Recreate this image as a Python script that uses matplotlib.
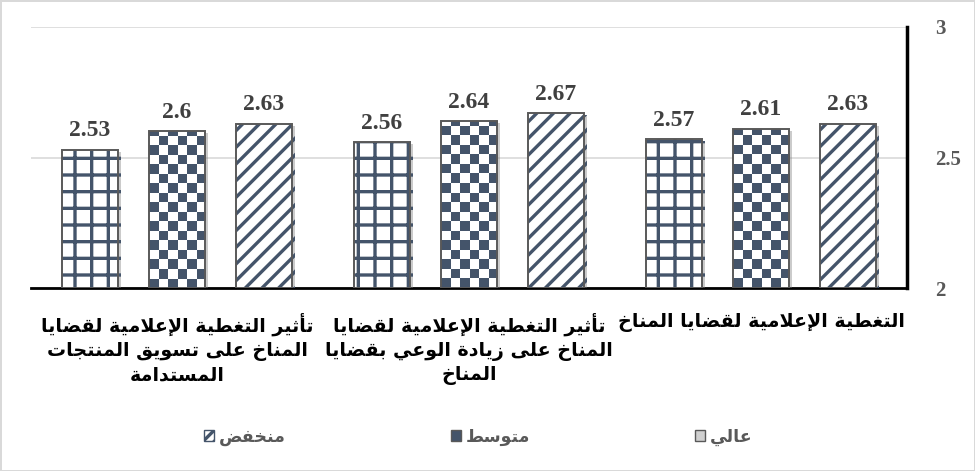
import numpy as np
import matplotlib
matplotlib.use('Agg')
import matplotlib.pyplot as plt
import matplotlib.patheffects as pe
from matplotlib.patches import Patch

# categories, first one drawn on the right (right-to-left chart)
categories = [
    "التغطية الإعلامية لقضايا المناخ",
    "تأثير التغطية الإعلامية لقضايا\nالمناخ على زيادة الوعي بقضايا\nالمناخ",
    "تأثير التغطية الإعلامية لقضايا\nالمناخ على تسويق المنتجات\nالمستدامة",
]
series_names = ["عالي", "متوسط", "منخفض"]
high = [2.57, 2.56, 2.53]
mid = [2.61, 2.64, 2.60]
low = [2.63, 2.67, 2.63]
y_ticks = [2, 2.5, 3]
y_tick_labels = ["2", "2.5", "3"]

# --- minimal arabic shaping (matplotlib has no bidi / joining support) ---
DUAL = {'ب': 0xFE8F, 'ت': 0xFE95, 'ث': 0xFE99, 'ج': 0xFE9D, 'ح': 0xFEA1,
        'خ': 0xFEA5, 'س': 0xFEB1, 'ش': 0xFEB5, 'ص': 0xFEB9, 'ض': 0xFEBD,
        'ط': 0xFEC1, 'ظ': 0xFEC5, 'ع': 0xFEC9, 'غ': 0xFECD, 'ف': 0xFED1,
        'ق': 0xFED5, 'ك': 0xFED9, 'ل': 0xFEDD, 'م': 0xFEE1, 'ن': 0xFEE5,
        'ه': 0xFEE9, 'ي': 0xFEF1, 'ئ': 0xFE89}
RIGHT = {'ا': 0xFE8D, 'أ': 0xFE83, 'إ': 0xFE87, 'آ': 0xFE81, 'د': 0xFEA9,
         'ذ': 0xFEAB, 'ر': 0xFEAD, 'ز': 0xFEAF, 'و': 0xFEED, 'ة': 0xFE93,
         'ى': 0xFEEF, 'ؤ': 0xFE85}
LAM_ALEF = {'آ': 0xFEF5, 'أ': 0xFEF7, 'إ': 0xFEF9, 'ا': 0xFEFB}


def shape_line(text):
    units = []
    i = 0
    while i < len(text):
        c = text[i]
        if c == 'ل' and i + 1 < len(text) and text[i + 1] in LAM_ALEF:
            units.append(('LA', text[i + 1]))
            i += 2
        else:
            units.append(('C', c))
            i += 1

    def joins_next(u):
        return u[0] == 'C' and u[1] in DUAL

    def joins_prev(u):
        return u[0] == 'LA' or u[1] in DUAL or u[1] in RIGHT

    out = []
    for k, u in enumerate(units):
        kind, c = u
        prev = k > 0 and joins_next(units[k - 1]) and joins_prev(u)
        nxt = k + 1 < len(units) and joins_next(u) and joins_prev(units[k + 1])
        if kind == 'LA':
            out.append(chr(LAM_ALEF[c] + (1 if prev else 0)))
        elif c in DUAL:
            off = 3 if (prev and nxt) else 2 if nxt else 1 if prev else 0
            out.append(chr(DUAL[c] + off))
        elif c in RIGHT:
            out.append(chr(RIGHT[c] + (1 if prev else 0)))
        else:
            out.append(c)
    return ''.join(reversed(out))


def ar(text):
    return '\n'.join(shape_line(l) for l in text.split('\n'))


W, H = 975, 471
fig = plt.figure(figsize=(W / 100, H / 100), dpi=100)
fig.patch.set_edgecolor('#d9d9d9')
fig.patch.set_linewidth(2)
ax = fig.add_axes([31 / W, 1 - 288 / H, (907 - 31) / W, (288 - 27) / H])

dark = '#44546A'
outline = '#595959'
plt.rcParams['hatch.linewidth'] = 2.4

x = np.arange(len(categories))
bw = 0.195
gap = 0.298
shadow = [pe.SimplePatchShadow(offset=(2, -1.5), shadow_rgbFace='#7f7f7f', alpha=0.4),
          pe.Normal()]

ax.set_xlim(2.5, -0.5)
ax.set_ylim(2, 3)

# hatch takes the edge colour, so edges are drawn separately
b_high = ax.bar(x + gap, np.array(high) - 2, bw, bottom=2, color='white',
                edgecolor=dark, linewidth=0, hatch='+', zorder=3)
b_mid = ax.bar(x, np.array(mid) - 2, bw, bottom=2, color='white',
               edgecolor=dark, linewidth=0, zorder=3)
b_low = ax.bar(x - gap, np.array(low) - 2, bw, bottom=2, color='white',
               edgecolor=dark, linewidth=0, hatch='//', zorder=3)

for bars in (b_high, b_mid, b_low):
    for b in bars:
        b.set_path_effects(shadow)

# checkerboard fill for the middle series
for b in b_mid:
    x0, y0 = b.get_x(), b.get_y()
    x1, y1 = x0 + b.get_width(), y0 + b.get_height()
    p0 = ax.transData.transform((x0, y0))
    p1 = ax.transData.transform((x1, y1))
    wpx, hpx = abs(p1[0] - p0[0]), abs(p1[1] - p0[1])
    ncol = 6
    sq = wpx / ncol
    nrow = int(np.ceil(hpx / sq))
    board = (np.add.outer(np.arange(nrow), np.arange(ncol)) % 2).astype(float)
    top_data = y0 + nrow * sq / hpx * (y1 - y0)
    im = ax.imshow(board, cmap=matplotlib.colors.ListedColormap(['white', dark]),
                   extent=(x0, x1, y0, top_data), origin='lower',
                   interpolation='nearest', aspect='auto', zorder=3.5)
    im.set_clip_path(b)

for bars in (b_high, b_mid, b_low):
    for b in bars:
        ax.add_patch(plt.Rectangle((b.get_x(), b.get_y()), b.get_width(),
                                   b.get_height(), fill=False, edgecolor=outline,
                                   linewidth=1.4, zorder=4))

ax.set_xlim(2.5, -0.5)
ax.set_ylim(2, 3)

for bars, vals in ((b_high, high), (b_mid, mid), (b_low, low)):
    for b, v in zip(bars, vals):
        ax.annotate(f"{v:g}", (b.get_x() + b.get_width() / 2, v),
                    xytext=(0, 6), textcoords='offset points', ha='center',
                    va='bottom', fontsize=17, fontweight='bold',
                    family='Liberation Serif', color='#404040')

ax.yaxis.tick_right()
ax.set_yticks(y_ticks)
ax.set_yticklabels(y_tick_labels, fontsize=15, fontweight='bold',
                   family='Liberation Serif', color='#595959')
ax.tick_params(axis='y', length=0, pad=20)
ax.yaxis.grid(True, color='#d9d9d9', linewidth=1.2)
ax.set_axisbelow(True)

ax.set_xticks(x)
ax.set_xticklabels([ar(c) for c in categories], fontsize=13.7,
                   fontweight='bold', family='DejaVu Sans', color='black',
                   linespacing=1.3)
ax.tick_params(axis='x', length=0, pad=18)

for s in ('top', 'left'):
    ax.spines[s].set_visible(False)
ax.spines['bottom'].set_linewidth(2)
ax.spines['right'].set_linewidth(2.5)

handles = [
    Patch(facecolor='white', edgecolor=dark, hatch='///', label=ar(series_names[2])),
    Patch(facecolor=dark, edgecolor=outline, label=ar(series_names[1])),
    Patch(facecolor='#d0d0d0', edgecolor=outline, label=ar(series_names[0])),
]
leg = fig.legend(handles=handles, loc='center', bbox_to_anchor=(478 / W, 1 - 437 / H),
                 ncol=3, frameon=False, handlelength=0.6, handleheight=0.6,
                 handletextpad=0.25, columnspacing=9.5,
                 prop={'family': 'DejaVu Sans', 'weight': 'bold', 'size': 12.5})
for t in leg.get_texts():
    t.set_color('#595959')

fig.savefig('out.png', dpi=100)
